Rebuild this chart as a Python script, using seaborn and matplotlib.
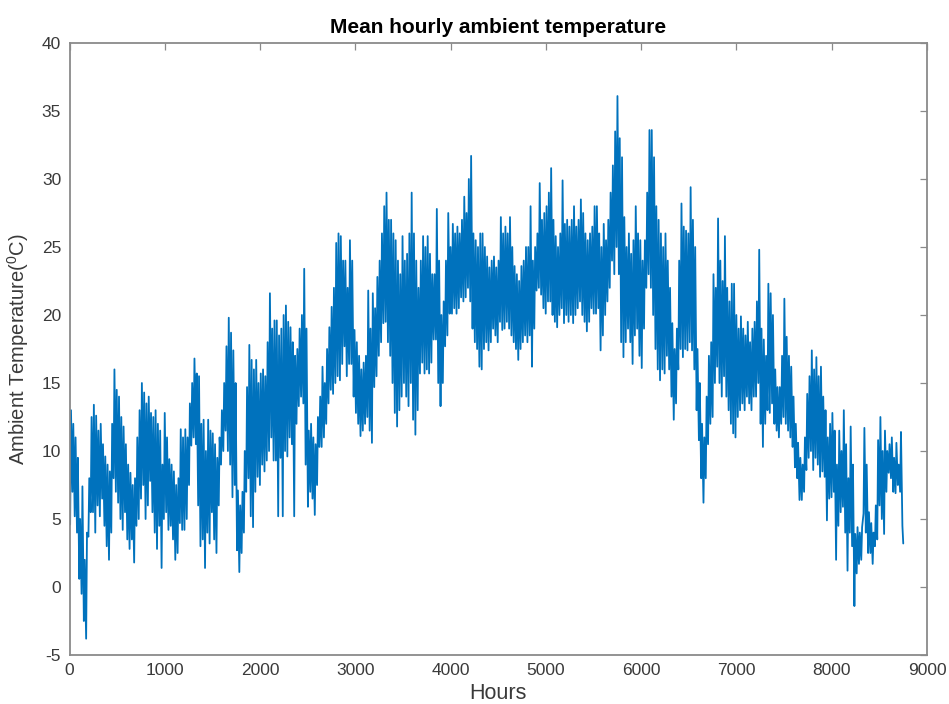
import numpy as np
import pandas as pd
import matplotlib
matplotlib.use("Agg")
import matplotlib.pyplot as plt
import seaborn as sns

# Daily low / high ambient temperature (°C) for each day of the year,
# split by quarter. Hourly profile: low in the early morning, high mid-afternoon.
low_q1 = [
    4.6, 7.0, 5.2, 4.0, 0.6, -0.5, -2.5, -3.8, 3.7, 5.5,
    5.5, 4.0, 6.0, 5.2, 6.5, 4.5, 3.0, 2.0, 4.0, 8.0,
    7.0, 6.2, 5.0, 4.2, 5.5, 3.5, 2.8, 3.5, 1.8, 4.5,
    5.0, 6.5, 7.5, 5.0, 6.0, 7.8, 5.5, 4.0, 2.8, 4.5,
    1.4, 5.0, 5.5, 4.2, 4.5, 3.5, 2.0, 2.5, 4.7, 4.2,
    4.2, 5.0, 7.5, 10.4, 11.0, 10.5, 6.0, 3.0, 3.5, 1.4,
    4.0, 3.2, 5.5, 3.5, 2.5, 6.0, 9.0, 10.0, 11.5, 10.0,
    9.0, 6.6, 7.5, 2.7, 1.1, 2.5, 4.0, 7.0, 8.0, 5.2,
    4.4, 7.0, 8.1, 7.5, 9.0, 8.5, 9.3, 10.0, 11.0, 9.3,
]
high_q1 = [
    13.0, 12.0, 11.0, 9.5, 5.0, 7.4, 2.0, 4.0, 8.0, 12.5,
    13.4, 12.6, 11.5, 12.0, 10.5, 9.6, 9.0, 8.5, 12.0, 16.0,
    14.5, 14.0, 12.5, 11.8, 10.5, 9.0, 8.4, 7.5, 8.0, 11.0,
    13.0, 15.0, 14.3, 13.5, 14.0, 12.8, 12.5, 13.0, 12.0, 11.5,
    9.0, 12.8, 11.0, 9.4, 9.0, 8.5, 7.5, 8.0, 11.6, 11.0,
    11.6, 11.0, 13.5, 15.0, 16.8, 15.7, 15.5, 12.0, 12.3, 10.0,
    12.3, 11.5, 11.3, 10.5, 9.5, 11.0, 13.0, 15.0, 17.7, 19.8,
    18.7, 17.4, 15.0, 7.1, 6.0, 7.0, 10.0, 14.7, 17.8, 16.7,
    16.0, 16.7, 15.0, 15.7, 16.0, 15.5, 18.0, 21.6, 19.0, 19.6,
]
low_q2 = [
    9.3, 5.2, 9.5, 5.2, 10.0, 9.6, 11.0, 10.5, 5.2, 12.0,
    13.3, 14.0, 13.5, 9.0, 5.9, 7.0, 6.5, 5.3, 7.5, 10.3,
    10.3, 11.0, 12.0, 13.5, 14.5, 14.2, 15.0, 15.5, 15.2, 16.4,
    17.7, 15.5, 16.4, 16.4, 14.0, 12.8, 12.0, 11.1, 11.5, 12.0,
    12.5, 11.5, 10.6, 14.7, 15.5, 17.0, 18.0, 19.4, 19.5, 18.0,
    17.0, 15.0, 12.8, 11.8, 13.0, 14.0, 15.0, 14.0, 13.3, 15.0,
    12.3, 11.2, 13.0, 15.7, 16.5, 15.7, 16.0, 15.7, 16.5, 18.2,
    18.2, 15.0, 13.3, 15.0, 17.7, 18.5, 20.1, 20.1, 20.5, 20.1,
    20.5, 21.3, 21.0, 21.3, 22.0, 21.0, 19.0, 18.0, 17.5, 16.2,
]
high_q2 = [
    19.6, 18.5, 19.0, 20.0, 20.7, 19.5, 19.1, 18.0, 17.0, 17.5,
    19.0, 20.0, 23.4, 19.0, 11.5, 12.0, 11.0, 10.5, 12.5, 14.0,
    16.2, 15.0, 17.5, 19.1, 20.6, 22.0, 25.3, 26.0, 25.8, 24.0,
    24.0, 22.0, 25.5, 24.0, 18.9, 18.0, 17.0, 16.0, 16.5, 17.0,
    21.8, 19.0, 21.6, 20.5, 22.8, 24.0, 26.0, 28.0, 29.0, 27.0,
    27.0, 26.0, 25.5, 24.0, 23.0, 25.8, 24.0, 24.5, 26.0, 29.0,
    26.0, 24.0, 22.0, 24.0, 25.8, 25.0, 25.8, 24.5, 23.0, 23.0,
    27.8, 24.0, 20.0, 21.0, 24.0, 27.5, 25.0, 26.7, 26.0, 26.5,
    26.0, 27.0, 28.7, 27.5, 30.0, 31.7, 26.0, 25.5, 25.0, 26.0,
]
low_q3 = [
    16.0, 17.5, 18.0, 17.4, 18.0, 19.0, 18.5, 18.0, 19.5, 18.9,
    19.0, 19.5, 19.0, 18.5, 18.0, 17.5, 16.7, 17.5, 18.0, 18.5,
    18.0, 18.5, 16.2, 19.0, 21.8, 22.0, 21.5, 20.5, 20.1, 21.0,
    21.0, 20.0, 19.5, 19.1, 20.0, 20.5, 19.4, 20.0, 19.5, 20.0,
    19.4, 20.0, 20.5, 21.0, 20.0, 19.5, 18.8, 19.5, 20.5, 20.1,
    20.1, 20.5, 17.4, 18.5, 20.0, 21.0, 22.0, 24.0, 23.0, 25.0,
    23.0, 18.0, 16.9, 18.0, 19.0, 18.0, 16.4, 18.5, 19.0, 17.0,
    16.1, 19.0, 22.0, 23.0, 22.0, 20.0, 17.5, 16.0, 15.2, 16.0,
    15.7, 17.0, 16.0, 14.0, 12.3, 13.5, 16.0, 17.5, 16.9, 17.5,
]
high_q3 = [
    26.0, 25.0, 24.3, 23.5, 24.0, 24.3, 23.5, 24.0, 27.2, 26.0,
    26.5, 26.0, 27.2, 25.0, 23.6, 23.0, 22.5, 23.6, 24.0, 25.0,
    25.0, 28.0, 24.0, 25.0, 26.0, 29.7, 27.0, 27.5, 28.0, 29.0,
    30.8, 27.0, 25.8, 25.0, 26.0, 29.9, 26.7, 27.0, 26.5, 27.0,
    28.0, 26.5, 27.0, 28.5, 27.5, 26.0, 25.5, 26.0, 26.5, 28.0,
    28.0, 26.0, 25.0, 26.7, 25.5, 27.0, 29.0, 31.0, 33.5, 36.1,
    33.0, 31.6, 27.2, 25.0, 26.0, 24.5, 25.5, 28.0, 26.0, 25.5,
    24.0, 25.5, 29.0, 33.6, 33.6, 31.6, 28.0, 27.0, 26.0, 25.0,
    26.0, 24.0, 22.0, 19.4, 17.5, 19.0, 24.0, 28.2, 26.5, 26.2,
]
low_q4 = [
    17.4, 18.0, 17.4, 16.0, 13.0, 10.8, 8.0, 6.2, 8.0, 10.5,
    12.0, 12.5, 15.0, 16.2, 15.0, 14.0, 15.5, 14.0, 13.0, 12.0,
    11.3, 11.0, 12.5, 13.0, 13.5, 13.0, 14.0, 13.5, 13.0, 14.0,
    14.0, 15.0, 12.0, 10.3, 12.0, 13.0, 12.8, 13.5, 12.0, 11.5,
    11.0, 12.0, 12.5, 12.0, 11.5, 11.0, 10.3, 8.8, 8.0, 6.4,
    6.4, 7.0, 8.6, 9.5, 10.0, 8.6, 9.5, 9.0, 8.1, 8.5,
    8.1, 4.9, 6.5, 6.6, 7.0, 2.0, 4.5, 5.5, 5.9, 4.0,
    1.2, 4.0, 3.0, -1.4, 1.0, 1.7, 2.0, 5.4, 4.0, 2.5,
    2.5, 1.7, 3.0, 3.5, 6.0, 5.0, 3.9, 7.0, 8.4, 8.0,
    7.0, 6.9, 7.5, 7.0, 4.5,
]
high_q4 = [
    26.0, 29.4, 27.0, 25.0, 17.5, 15.0, 12.0, 11.0, 14.0, 17.0,
    18.0, 23.0, 22.0, 27.1, 24.0, 22.5, 25.8, 22.0, 21.0, 22.3,
    22.3, 20.0, 19.0, 19.9, 19.0, 18.5, 19.5, 18.0, 19.0, 19.5,
    21.0, 24.8, 19.0, 18.2, 17.0, 22.3, 21.6, 20.0, 16.0, 14.7,
    14.7, 17.0, 21.2, 18.4, 17.0, 16.2, 14.0, 12.0, 10.6, 9.5,
    9.0, 11.0, 14.2, 15.5, 17.4, 16.0, 16.9, 15.5, 16.2, 14.0,
    13.0, 11.0, 12.0, 12.8, 11.5, 9.0, 11.5, 10.0, 13.0, 10.5,
    8.0, 11.8, 9.0, 3.9, 4.4, 4.0, 4.4, 11.7, 9.0, 5.5,
    4.7, 4.0, 6.0, 10.8, 12.5, 10.0, 11.5, 10.0, 10.5, 11.0,
    9.5, 10.6, 9.0, 11.4, 3.2,
]
low_hour, high_hour = 6, 15

x_ticks = [0, 1000, 2000, 3000, 4000, 5000, 6000, 7000, 8000, 9000]
y_ticks = [-5, 0, 5, 10, 15, 20, 25, 30, 35, 40]

daily_low = low_q1 + low_q2 + low_q3 + low_q4
daily_high = high_q1 + high_q2 + high_q3 + high_q4
day = np.arange(len(daily_low))

df = pd.concat([
    pd.DataFrame({"Hours": day * 24 + low_hour, "Temperature": daily_low}),
    pd.DataFrame({"Hours": day * 24 + high_hour, "Temperature": daily_high}),
]).sort_values("Hours").reset_index(drop=True)

sns.set_theme(style="white")
plt.rcParams["font.family"] = ["Liberation Sans", "DejaVu Sans"]
plt.rcParams["mathtext.fontset"] = "custom"
plt.rcParams["mathtext.rm"] = "Liberation Sans"
plt.rcParams["axes.unicode_minus"] = False

fig = plt.figure(figsize=(9.49, 7.04), dpi=100)
ax = fig.add_axes([0.0733, 0.0696, 0.9035, 0.8693])

sns.lineplot(data=df, x="Hours", y="Temperature", ax=ax, estimator=None,
             sort=False, color="#0072BD", linewidth=1.3)

ax.set_xlim(0, 9000)
ax.set_ylim(-5, 40)
ax.set_xticks(x_ticks)
ax.set_yticks(y_ticks)
ax.tick_params(axis="both", which="both", direction="in", length=5, width=0.9,
               color="#8a8a8a", labelcolor="#3a3a3a", labelsize=12.5,
               top=True, right=True, pad=6)
for side in ["left", "right", "top", "bottom"]:
    ax.spines[side].set_visible(True)
    ax.spines[side].set_color("#8a8a8a")
    ax.spines[side].set_linewidth(1.3)

ax.set_title("Mean hourly ambient temperature", fontsize=15,
             fontweight="bold", color="black", pad=7)
ax.set_xlabel("Hours", fontsize=15.5, color="#3a3a3a", labelpad=3)
ax.set_ylabel(r"Ambient Temperature($^{0}$C)", fontsize=14.5, color="#3a3a3a",
              labelpad=8)

fig.savefig("out.png", dpi=100, facecolor="white")
